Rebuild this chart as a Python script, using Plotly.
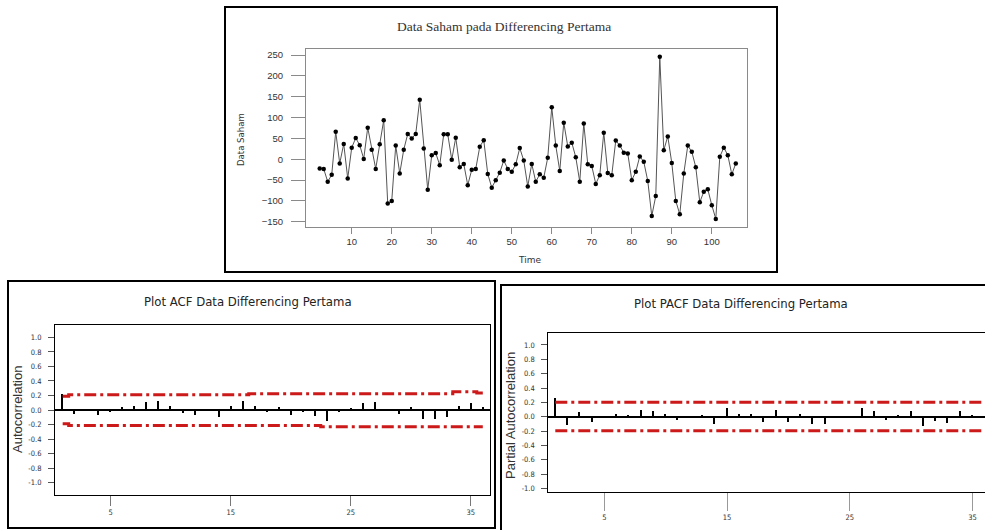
import plotly.graph_objects as go

W, H = 985, 530

# ---------------- data ----------------
time_index = list(range(2, 107))
saham_diff = [-22, -23, -54, -37, 66, -10, 37, -46, 28, 51,
              34, 1, 76, 23, -23, 36, 94, -106, -100, 33,
              -34, 23, 61, 50, 61, 143, 26, -73, 10, 15,
              -14, 60, 60, -1, 52, -19, -11, -62, -25, -23,
              30, 46, -35, -68, -50, -32, -3, -23, -30, -12,
              27, -3, -65, -11, -54, -36, -44, 4, 125, 33,
              -28, 88, 31, 40, 5, -54, 86, -12, -16, -59,
              -38, 64, -33, -38, 45, 33, 16, 14, -50, -30,
              7, -6, -52, -136, -88, 246, 22, 55, -9, -100,
              -132, -34, 33, 18, -19, -103, -78, -72, -110, -143,
              6, 28, 10, -36, -10]
top_yticks = [250, 200, 150, 100, 50, 0, -50, -100, -150]
top_xticks = [10, 20, 30, 40, 50, 60, 70, 80, 90, 100]

acf_lags = list(range(1, 37))
acf_vals = [0.22, -0.06, -0.01, -0.065, -0.02, 0.04, 0.06, 0.11, 0.13, 0.055,
            -0.04, -0.065, 0.01, -0.09, 0.055, 0.12, 0.055, -0.02, 0.04, -0.07,
            -0.02, -0.08, -0.15, -0.03, 0.03, 0.09, 0.11, 0.005, -0.05, 0.04,
            -0.13, -0.12, -0.10, 0.055, 0.09, 0.04]
acf_upper = [0.19, 0.21, 0.21, 0.21, 0.21, 0.21, 0.21, 0.21, 0.21, 0.21,
             0.21, 0.21, 0.21, 0.21, 0.21, 0.21, 0.225, 0.225, 0.225, 0.225,
             0.225, 0.225, 0.225, 0.225, 0.225, 0.225, 0.225, 0.225, 0.225, 0.225,
             0.225, 0.225, 0.225, 0.25, 0.25, 0.235]
acf_lower = [-0.19, -0.215, -0.215, -0.215, -0.215, -0.215, -0.215, -0.215, -0.215, -0.215,
             -0.215, -0.215, -0.215, -0.215, -0.215, -0.215, -0.215, -0.215, -0.215, -0.215,
             -0.215, -0.215, -0.23, -0.23, -0.23, -0.23, -0.23, -0.23, -0.23, -0.23,
             -0.23, -0.23, -0.23, -0.23, -0.23, -0.23]

pacf_lags = list(range(1, 36))
pacf_vals = [0.25, -0.12, 0.055, -0.08, 0.005, 0.03, 0.02, 0.085, 0.07, 0.035,
             -0.055, -0.015, 0.02, -0.10, 0.115, 0.03, 0.03, -0.075, 0.09, -0.075,
             0.04, -0.105, -0.11, 0.005, -0.025, 0.115, 0.07, -0.045, 0.025, 0.07,
             -0.135, -0.06, -0.09, 0.07, 0.025]
pacf_upper = 0.20
pacf_lower = -0.195

corr_ticks = [1.0, 0.8, 0.6, 0.4, 0.2, 0.0, -0.2, -0.4, -0.6, -0.8, -1.0]
corr_ticktext = ["1.0", "0.8", "0.6", "0.4", "0.2", "0.0", "-0.2", "-0.4", "-0.6", "-0.8", "-1.0"]
lag_ticks = [5, 15, 25, 35]

# ---------------- helpers ----------------
def fx(px):
    return px / W

def fy(py):
    return 1 - py / H

NARROW = "Liberation Sans Narrow, Arial Narrow, DejaVu Sans Condensed, Liberation Sans, sans-serif"
SANS = "Liberation Sans, Arial, sans-serif"
RED = "#cc1a1a"
DASH = "12px,4px,3px,4px"

fig = go.Figure()

# ---------- top time series ----------
fig.add_trace(go.Scatter(
    x=time_index, y=saham_diff, mode="lines+markers",
    line=dict(color="#555555", width=1),
    marker=dict(color="black", size=4.5),
    xaxis="x", yaxis="y", showlegend=False))

# ---------- ACF ----------
fig.add_trace(go.Bar(x=acf_lags, y=acf_vals, width=0.12, marker=dict(color="black", line=dict(width=0)),
                     xaxis="x2", yaxis="y2", showlegend=False))
fig.add_trace(go.Scatter(x=acf_lags, y=acf_upper, mode="lines", line=dict(color=RED, width=3, dash=DASH, shape="hvh"),
                         xaxis="x2", yaxis="y2", showlegend=False))
fig.add_trace(go.Scatter(x=acf_lags, y=acf_lower, mode="lines", line=dict(color=RED, width=3, dash=DASH, shape="hvh"),
                         xaxis="x2", yaxis="y2", showlegend=False))

# ---------- PACF ----------
fig.add_trace(go.Bar(x=pacf_lags, y=pacf_vals, width=0.12, marker=dict(color="black", line=dict(width=0)),
                     xaxis="x3", yaxis="y3", showlegend=False))
band_x = [pacf_lags[0], 36.5]
fig.add_trace(go.Scatter(x=band_x, y=[pacf_upper, pacf_upper], mode="lines",
                         line=dict(color=RED, width=3, dash=DASH), xaxis="x3", yaxis="y3", showlegend=False))
fig.add_trace(go.Scatter(x=band_x, y=[pacf_lower, pacf_lower], mode="lines",
                         line=dict(color=RED, width=3, dash=DASH), xaxis="x3", yaxis="y3", showlegend=False))

tick_font_top = dict(family=SANS, size=9.5, color="#333333")
tick_font_corr = dict(family=NARROW, size=7.5, color="#333333")

fig.update_layout(
    width=W, height=H, autosize=False,
    margin=dict(l=0, r=0, t=0, b=0),
    paper_bgcolor="white", plot_bgcolor="white",
    bargap=0,
    xaxis=dict(domain=[fx(306), fx(747)], range=[-1.43, 108.8], anchor="y",
               showgrid=False, zeroline=False, showline=True, mirror=True, linecolor="#8a8a8a", linewidth=1,
               ticks="outside", ticklen=6, tickcolor="#8a8a8a", tickvals=top_xticks,
               tickfont=tick_font_top, fixedrange=True),
    yaxis=dict(domain=[fy(227), fy(49)], range=[-162.5, 264.7], anchor="x",
               showgrid=False, zeroline=False, showline=True, mirror=True, linecolor="#8a8a8a", linewidth=1,
               ticks="outside", ticklen=14, tickcolor="#8a8a8a", tickvals=top_yticks,
               tickfont=tick_font_top, ticklabelstandoff=6, fixedrange=True),
    xaxis2=dict(domain=[fx(55), fx(490)], range=[0.36, 36.6], anchor="y2",
                showgrid=False, zeroline=False, showline=True, mirror=True, linecolor="black", linewidth=1,
                ticks="outside", ticklen=10, tickcolor="#777777", tickvals=lag_ticks,
                tickfont=tick_font_corr, fixedrange=True),
    yaxis2=dict(domain=[fy(495), fy(325)], range=[-1.172, 1.172], anchor="x2",
                showgrid=False, zeroline=True, zerolinecolor="black", zerolinewidth=1.5,
                showline=True, mirror=True, linecolor="black", linewidth=1,
                ticks="outside", ticklen=6, tickcolor="#555555",
                tickvals=corr_ticks, ticktext=corr_ticktext,
                tickfont=tick_font_corr, ticklabelstandoff=5, fixedrange=True),
    xaxis3=dict(domain=[fx(548.3), 1.0], range=[0.43, 36.02], anchor="y3",
                showgrid=False, zeroline=False, showline=True, mirror=True, linecolor="black", linewidth=1,
                ticks="outside", ticklen=18, tickcolor="#999999", tickvals=lag_ticks,
                tickfont=tick_font_corr, fixedrange=True),
    yaxis3=dict(domain=[fy(491.7), fy(333.3)], range=[-1.046, 1.163], anchor="x3",
                showgrid=False, zeroline=True, zerolinecolor="black", zerolinewidth=1.5,
                showline=True, mirror=False, linecolor="black", linewidth=1,
                ticks="outside", ticklen=6, tickcolor="#555555",
                tickvals=corr_ticks, ticktext=corr_ticktext,
                tickfont=tick_font_corr, ticklabelstandoff=5, fixedrange=True),
)

# ---------- panel borders ----------
for (x0, y0, x1, y1) in [(225, 7, 777, 272), (8, 281, 495, 528), (501, 285, 992, 536)]:
    fig.add_shape(type="rect", xref="paper", yref="paper",
                  x0=fx(x0), x1=fx(x1), y0=fy(y1), y1=fy(y0),
                  line=dict(color="black", width=2), fillcolor="rgba(0,0,0,0)", layer="above")

# ---------- texts ----------
def ann(text, px, py, font, angle=0):
    fig.add_annotation(text=text, x=fx(px), y=fy(py), xref="paper", yref="paper",
                       showarrow=False, textangle=angle, font=font, xanchor="center", yanchor="middle")

ann("Data Saham pada Differencing Pertama", 504, 27,
    dict(family="Liberation Serif, Times New Roman, serif", size=13.5, color="#333333"))
ann("Data Saham", 241, 140, dict(family=NARROW, size=9.5, color="#333333"), -90)
ann("Time", 529, 260, dict(family="DejaVu Sans, Verdana, sans-serif", size=9, color="#333333"))
ann("Plot ACF Data Differencing Pertama", 248, 301, dict(family=NARROW, size=13, color="#222222"))
ann("Autocorrelation", 17, 410, dict(family=SANS, size=13, color="#333333"), -90)
ann("Plot PACF Data Differencing Pertama", 741, 303, dict(family=NARROW, size=13, color="#222222"))
ann("Partial Autocorrelation", 510, 416, dict(family=SANS, size=13, color="#333333"), -90)

fig.write_html("out.html", config={"displayModeBar": False},
               post_script="document.body.style.margin='0';document.body.style.overflow='hidden';")
